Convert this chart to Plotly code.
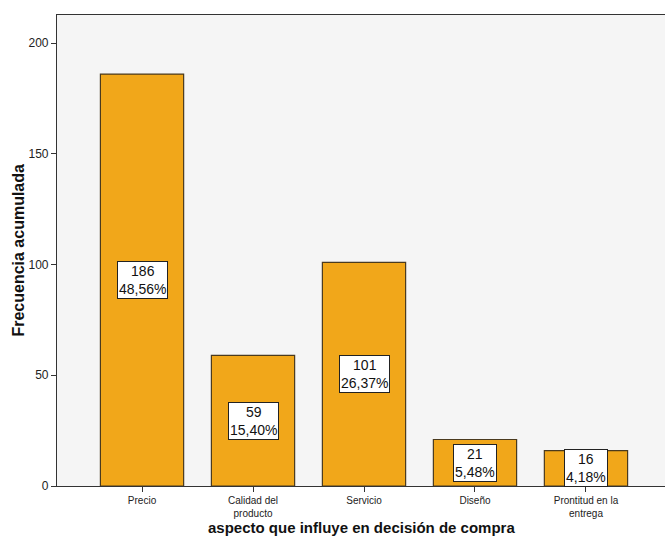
import plotly.graph_objects as go

# Purchase-decision aspects and how many respondents chose each
categorias = ["Precio", "Calidad del<br>producto", "Servicio", "Diseño", "Prontitud en la<br>entrega"]
frecuencias = [186, 59, 101, 21, 16]
y_ticks = [0, 50, 100, 150, 200]

total = sum(frecuencias)
posiciones = list(range(len(categorias)))
FONT = "Liberation Sans, Arial"

def pct(v):
    return f"{100 * v / total:.2f}".replace(".", ",") + "%"

fig = go.Figure()
fig.add_trace(go.Bar(
    x=posiciones,
    y=frecuencias,
    width=0.75,
    marker=dict(color="#F1A71A", line=dict(color="#4a3a1e", width=1.2)),
    hoverinfo="skip",
))

# Count and percentage label boxed in the middle of each bar
for x, v in zip(posiciones, frecuencias):
    fig.add_annotation(
        x=x, y=v / 2, xref="x", yref="y",
        text=f"{v}<br>{pct(v)}",
        showarrow=False,
        font=dict(family=FONT, size=14, color="#111"),
        bgcolor="white", bordercolor="#222", borderwidth=1, borderpad=1,
    )

# Axis titles
fig.add_annotation(
    x=0.5, y=-0.088, xref="paper", yref="paper",
    xanchor="center", yanchor="middle", showarrow=False,
    text="<b>aspecto que influye en decisión de compra</b>",
    font=dict(family=FONT, size=15, color="#111"),
)
fig.add_annotation(
    x=-0.064, y=0.5, xref="paper", yref="paper",
    xanchor="center", yanchor="middle", showarrow=False, textangle=-90,
    text="<b>Frecuencia acumulada</b>",
    font=dict(family=FONT, size=16, color="#111"),
)

fig.update_layout(
    width=665, height=542,
    margin=dict(l=57, r=0, t=15, b=56),
    paper_bgcolor="white",
    plot_bgcolor="#f5f5f5",
    showlegend=False,
    font=dict(family=FONT, color="#222"),
    xaxis=dict(
        range=[-0.766, 4.712],
        tickvals=posiciones, ticktext=categorias,
        tickfont=dict(size=10),
        ticks="outside", ticklen=5, tickcolor="#333",
        showline=True, linecolor="#333", linewidth=1.2, mirror=True,
        showgrid=False, zeroline=False,
    ),
    yaxis=dict(
        range=[0, 212.7],
        tickvals=y_ticks,
        tickfont=dict(size=12),
        ticks="outside", ticklen=5, tickcolor="#333",
        showline=True, linecolor="#333", linewidth=1.2,
        showgrid=False, zeroline=False,
    ),
)

fig.write_html("out.html")
